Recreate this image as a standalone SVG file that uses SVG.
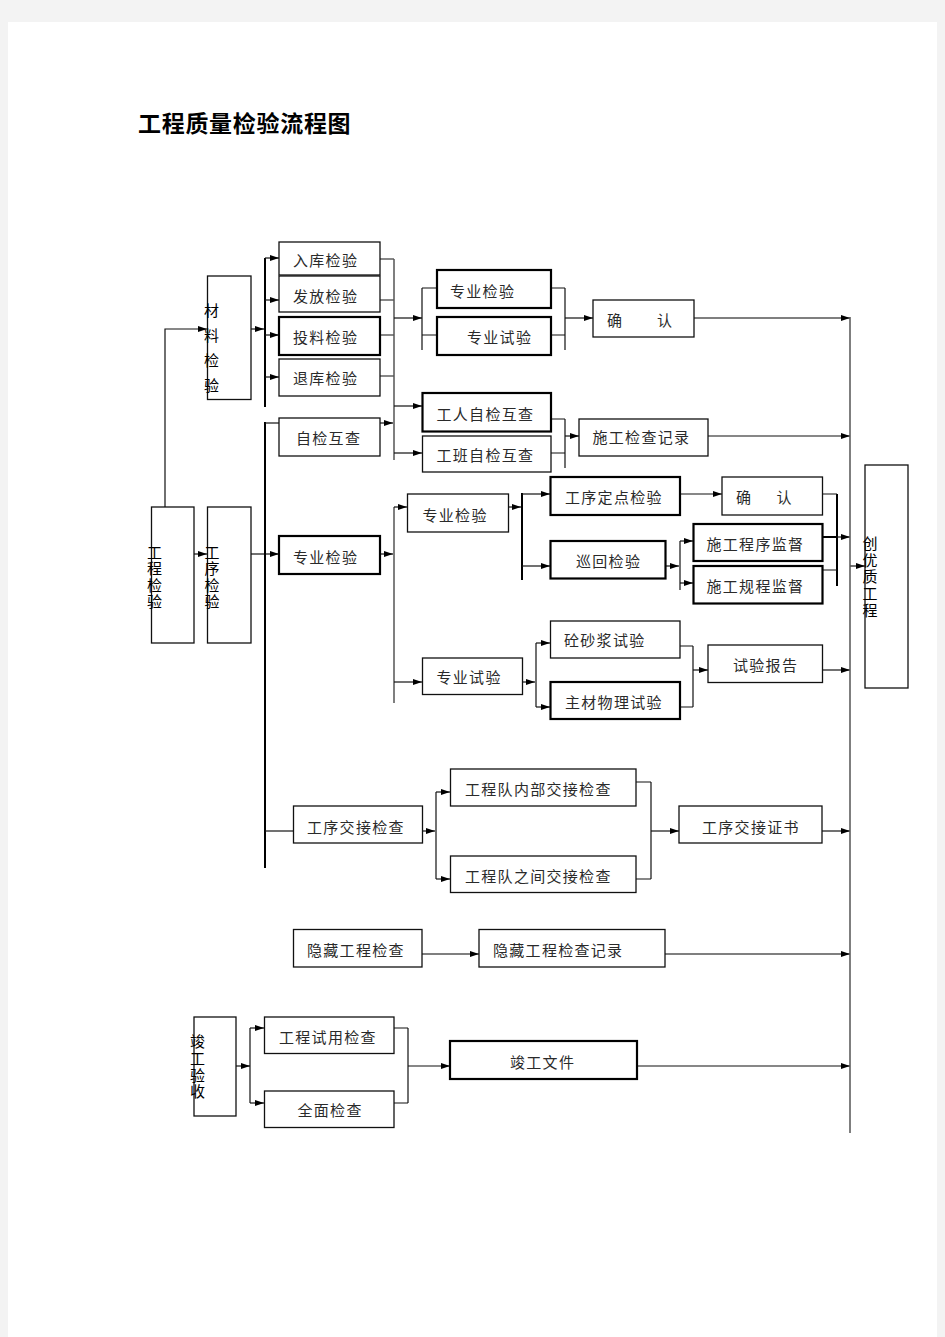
<svg xmlns="http://www.w3.org/2000/svg" width="945" height="1337" viewBox="0 0 945 1337">
<style>
.bx{fill:#fff;stroke:#111;stroke-width:1.3}
.bt{fill:#fff;stroke:#000;stroke-width:2.2}
.t{font-family:"Noto Sans CJK SC","Noto Sans CJK JP",sans-serif;font-size:15px;fill:#2a2a2a;letter-spacing:1.3px}
.v{font-family:"Noto Sans CJK SC","Noto Sans CJK JP",sans-serif;font-size:15px;fill:#000;writing-mode:vertical-rl;text-orientation:upright;letter-spacing:1.3px}
.ln{fill:none;stroke:#111;stroke-width:1.2}
.lg{fill:none;stroke:#555;stroke-width:1.5}
.lk{fill:none;stroke:#000;stroke-width:2}
.a{marker-end:url(#ar)}
</style>
<defs>
<marker id="ar" markerUnits="userSpaceOnUse" markerWidth="9" markerHeight="7" refX="9" refY="3.5" orient="auto">
<path d="M0,0.5 L9,3.5 L0,6.5 z" fill="#000"/>
</marker>
</defs>
<rect x="0" y="0" width="945" height="1337" fill="#f3f3f3"/>
<rect x="8" y="22" width="929" height="1315" fill="#fff"/>
<text x="138" y="132" style="font-family:'Noto Sans CJK SC',sans-serif;font-size:23px;font-weight:bold;fill:#000;letter-spacing:0.7px">工程质量检验流程图</text>

<g id="connectors">
<path class="ln a" d="M165,552 V329 H207"/>
<path class="ln a" d="M251,329 H264"/>
<path class="lk" d="M265,258 V407"/>
<path class="ln a" d="M265,258 H279"/>
<path class="ln a" d="M265,300 H279"/>
<path class="ln a" d="M265,335 H279"/>
<path class="ln a" d="M265,377 H279"/>
<path class="ln" d="M380,259 H394 M380,300 H394 M380,335 H394 M380,376 H394"/>
<path class="lg" d="M394,259 V460"/>
<path class="ln a" d="M394,318 H422"/>
<path class="ln" d="M422,288 V350 M422,288 H437 M422,335 H437"/>
<path class="ln" d="M565,288 V350 M551,288 H565 M551,335 H565"/>
<path class="ln a" d="M565,318 H593"/>
<path class="lg a" d="M694,318 H850"/>
<path class="ln a" d="M380,423 H393"/>
<path class="ln a" d="M394,406 H422"/>
<path class="ln a" d="M394,453 H422"/>
<path class="ln" d="M565,419 V468 M551,419 H565 M551,453 H565"/>
<path class="ln a" d="M565,436 H579"/>
<path class="ln a" d="M708,436 H850"/>
<path class="ln a" d="M194,554 H207"/>
<path class="ln a" d="M251,554 H279"/>
<path class="lk" d="M265,422 V868"/>
<path class="ln" d="M265,423 H279"/>
<path class="ln a" d="M380,554 H393"/>
<path class="lg" d="M394,507 V703"/>
<path class="ln a" d="M394,507 H407"/>
<path class="ln a" d="M394,682 H422"/>
<path class="ln a" d="M508,507 H521"/>
<path class="lk" d="M522,493 V580"/>
<path class="ln a" d="M522,494 H550"/>
<path class="ln a" d="M522,566 H550"/>
<path class="ln a" d="M680,494 H722"/>
<path class="ln a" d="M666,566 H679"/>
<path class="ln" d="M680,541 V590"/>
<path class="ln a" d="M680,541 H693"/>
<path class="ln a" d="M680,583 H693"/>
<path class="lk" d="M837,494 V586"/>
<path class="ln" d="M822,494 H837 M822,570 H837"/>
<path class="lk" d="M822,537 H837"/>
<path class="ln a" d="M837,537 H850"/>
<path class="ln a" d="M850,566 H865"/>
<path class="ln a" d="M522,682 H535"/>
<path class="ln" d="M536,643 V707"/>
<path class="ln a" d="M536,643 H550"/>
<path class="ln a" d="M536,707 H550"/>
<path class="ln" d="M693,646 V707 M680,646 H693 M680,707 H693"/>
<path class="ln a" d="M693,670 H708"/>
<path class="ln a" d="M822,670 H850"/>
<path class="ln" d="M265,831 H293"/>
<path class="ln a" d="M422,831 H435"/>
<path class="ln" d="M436,792 V879"/>
<path class="ln a" d="M436,792 H450"/>
<path class="ln a" d="M436,879 H450"/>
<path class="ln" d="M651,782 V879 M636,782 H651 M636,879 H651"/>
<path class="ln a" d="M651,831 H679"/>
<path class="ln a" d="M822,831 H850"/>
<path class="lg a" d="M422,954 H479"/>
<path class="lg a" d="M665,954 H850"/>
<path class="ln a" d="M236,1066 H250"/>
<path class="ln" d="M250,1028 V1103"/>
<path class="ln a" d="M250,1028 H264"/>
<path class="ln a" d="M250,1103 H264"/>
<path class="ln" d="M408,1028 V1103 M394,1028 H408 M394,1103 H408"/>
<path class="ln a" d="M408,1066 H450"/>
<path class="ln a" d="M637,1066 H850"/>
<path class="lg" d="M850,317 V1133"/>
</g>

<g id="n-ruku"><rect class="bx" x="279" y="242" width="101" height="33"/><text class="t" x="293" y="266">入库检验</text></g>
<g id="n-fafang"><rect class="bx" x="279" y="276" width="101" height="36"/><text class="t" x="293" y="302">发放检验</text></g>
<g id="n-touliao"><rect class="bt" x="279" y="317" width="101" height="38"/><text class="t" x="293" y="343">投料检验</text></g>
<g id="n-tuiku"><rect class="bx" x="279" y="359" width="101" height="37"/><text class="t" x="293" y="384">退库检验</text></g>
<g id="n-zijian"><rect class="bx" x="279" y="418" width="101" height="38"/><text class="t" x="296" y="444">自检互查</text></g>
<g id="n-cailiao"><rect class="bx" x="207.5" y="276" width="43.5" height="123.5"/>
<text class="v" x="211.5" y="303" style="letter-spacing:10px">材料检验</text></g>
<g id="n-zyjy1"><rect class="bt" x="437" y="270" width="114" height="38"/><text class="t" x="450" y="297">专业检验</text></g>
<g id="n-zysy1"><rect class="bt" x="437" y="317" width="114" height="38"/><text class="t" x="467" y="343">专业试验</text></g>
<g id="n-queren1"><rect class="bx" x="593" y="300" width="101" height="37"/><text class="t" x="607" y="326">确</text><text class="t" x="657" y="326">认</text></g>
<g id="n-gongren"><rect class="bt" x="422.5" y="393" width="128.5" height="38.5"/><text class="t" x="436.5" y="420">工人自检互查</text></g>
<g id="n-gongban"><rect class="bx" x="422.5" y="436" width="128.5" height="36"/><text class="t" x="436.5" y="461">工班自检互查</text></g>
<g id="n-sgjcjl"><rect class="bx" x="579" y="419" width="129" height="37"/><text class="t" x="592.5" y="443">施工检查记录</text></g>
<g id="n-gcjy"><rect class="bx" x="151.5" y="507" width="42.5" height="136"/>
<text class="v" x="154.5" y="545">工程检验</text></g>
<g id="n-gxjy"><rect class="bx" x="207.5" y="507" width="43.5" height="136"/>
<text class="v" x="212" y="545">工序检验</text></g>
<g id="n-zyjy2"><rect class="bt" x="279" y="536" width="101" height="38"/><text class="t" x="293" y="563">专业检验</text></g>
<g id="n-zyjy3"><rect class="bx" x="407.5" y="494" width="101" height="38"/><text class="t" x="422.5" y="521">专业检验</text></g>
<g id="n-zysy2"><rect class="bx" x="422.5" y="658" width="100" height="36.5"/><text class="t" x="436.5" y="683">专业试验</text></g>
<g id="n-gxddjy"><rect class="bt" x="550.5" y="477" width="129.5" height="38"/><text class="t" x="565" y="503">工序定点检验</text></g>
<g id="n-queren2"><rect class="bx" x="722" y="477" width="100.5" height="38"/><text class="t" x="736" y="503">确</text><text class="t" x="776.5" y="503">认</text></g>
<g id="n-xunhui"><rect class="bt" x="550.5" y="541" width="115" height="37.5"/><text class="t" x="576" y="567">巡回检验</text></g>
<g id="n-sgcxjd"><rect class="bt" x="693.5" y="524" width="129" height="37"/><text class="t" x="706.5" y="550">施工程序监督</text></g>
<g id="n-sggcjd"><rect class="bt" x="693.5" y="566" width="129" height="37.5"/><text class="t" x="706.5" y="592">施工规程监督</text></g>
<g id="n-tongsha"><rect class="bx" x="550.5" y="621" width="129.5" height="37"/><text class="t" x="564" y="646">砼砂浆试验</text></g>
<g id="n-zhucai"><rect class="bt" x="550.5" y="682" width="129.5" height="37"/><text class="t" x="565" y="708">主材物理试验</text></g>
<g id="n-sybg"><rect class="bx" x="708" y="645" width="114.5" height="37.5"/><text class="t" x="733" y="671">试验报告</text></g>
<g id="n-chuangyou"><rect class="bx" x="865" y="465" width="43" height="223"/>
<text class="v" x="870" y="536" style="letter-spacing:1.6px">创优质工程</text></g>
<g id="n-gxjjjc"><rect class="bx" x="293.5" y="806" width="129" height="37"/><text class="t" x="307" y="833">工序交接检查</text></g>
<g id="n-nbjj"><rect class="bx" x="450.5" y="769" width="185.5" height="37"/><text class="t" x="465" y="795">工程队内部交接检查</text></g>
<g id="n-zjjj"><rect class="bx" x="450.5" y="856" width="185.5" height="36.5"/><text class="t" x="465" y="882">工程队之间交接检查</text></g>
<g id="n-gxjjzs"><rect class="bx" x="679" y="806" width="143" height="37"/><text class="t" x="702" y="833">工序交接证书</text></g>
<g id="n-ycgcjc"><rect class="bx" x="293.5" y="929.5" width="128.5" height="37.5"/><text class="t" x="307" y="956">隐藏工程检查</text></g>
<g id="n-ycgcjl"><rect class="bx" x="479" y="929.5" width="186" height="37.5"/><text class="t" x="493" y="956">隐藏工程检查记录</text></g>
<g id="n-jgys"><rect class="bx" x="194" y="1017" width="42" height="99"/>
<text class="v" x="197.5" y="1034" style="letter-spacing:1.7px">竣工验收</text></g>
<g id="n-gcsy"><rect class="bx" x="264.5" y="1017" width="129.5" height="36.5"/><text class="t" x="279" y="1043">工程试用检查</text></g>
<g id="n-qmjc"><rect class="bx" x="264.5" y="1091" width="129.5" height="36.5"/><text class="t" x="297.5" y="1116">全面检查</text></g>
<g id="n-jgwj"><rect class="bt" x="450" y="1041" width="187" height="38"/><text class="t" x="510" y="1068">竣工文件</text></g>
</svg>
